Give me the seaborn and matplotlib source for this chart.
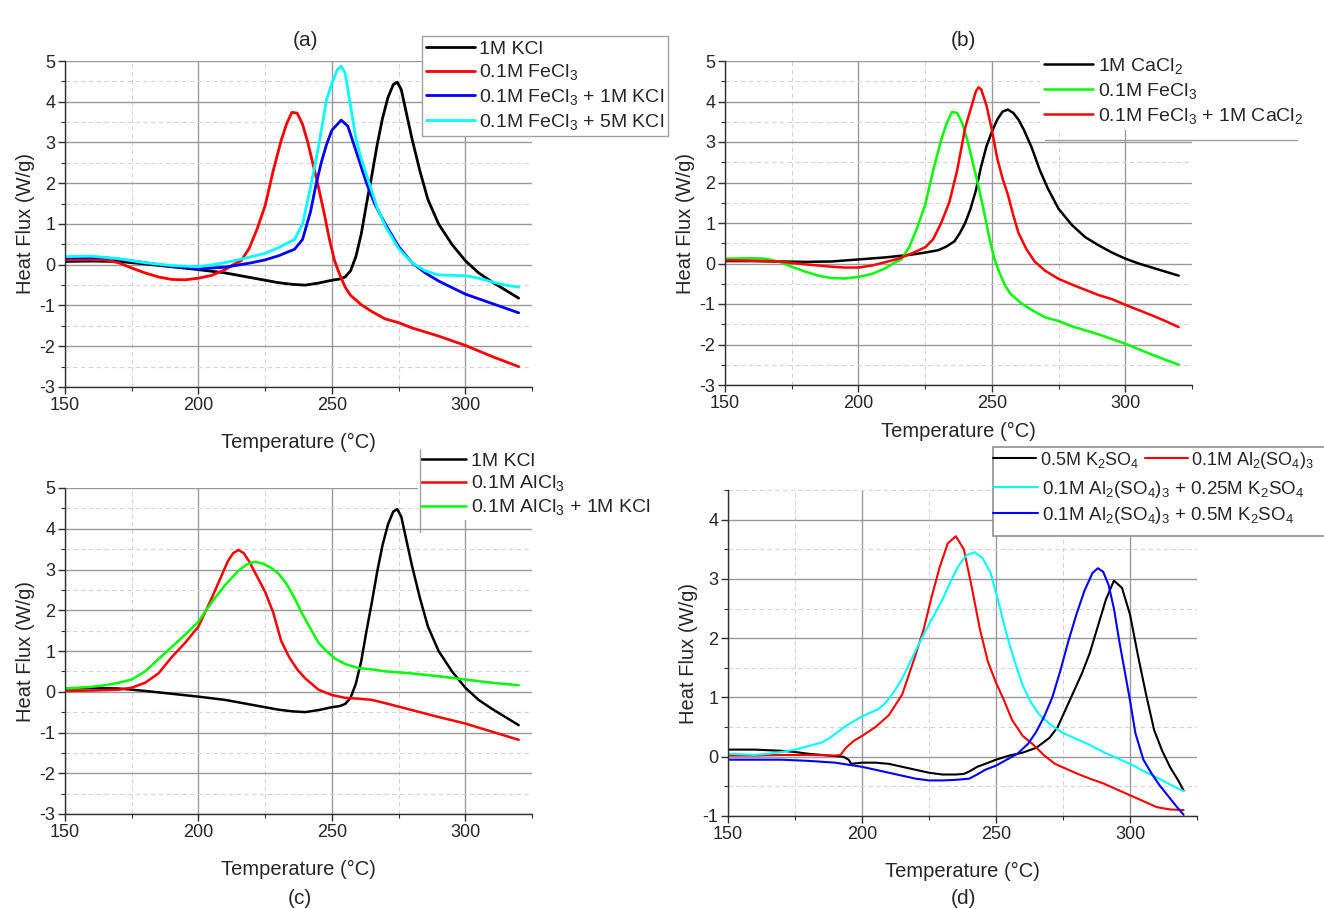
import numpy as np
import pandas as pd
import matplotlib
matplotlib.use("Agg")
import matplotlib.pyplot as plt
import seaborn as sns
from matplotlib.ticker import MultipleLocator
from matplotlib.patches import Rectangle
from matplotlib.lines import Line2D

# ---------------- data ----------------
# 1M KCl (panels a and c)
t_kcl = [150,160,170,180,190,200,210,220,230,235,240,245,250,253,255,257,259,261,263,265,267,269,271,273,274.5,276,278,280,283,286,290,295,300,305,310,315,320]
v_kcl = [0.08,0.09,0.08,0.02,-0.05,-0.12,-0.2,-0.32,-0.44,-0.48,-0.5,-0.45,-0.38,-0.35,-0.3,-0.15,0.2,0.75,1.5,2.2,2.95,3.6,4.1,4.42,4.48,4.3,3.7,3.1,2.3,1.6,1.0,0.5,0.1,-0.2,-0.42,-0.62,-0.82]

# 0.1M FeCl3 (panels a and b)
t_fe = [150,160,165,170,175,180,185,190,195,200,205,210,213,216,219,222,225,228,231,233,235,237,239,241,243,245,247,249,251,253,255,257,261,265,270,275,280,290,300,310,320]
v_fe = [0.12,0.13,0.12,0.05,-0.08,-0.2,-0.3,-0.36,-0.37,-0.33,-0.26,-0.12,0.0,0.1,0.4,0.88,1.45,2.3,3.05,3.45,3.74,3.72,3.45,3.0,2.45,1.9,1.3,0.65,0.1,-0.25,-0.55,-0.75,-0.98,-1.15,-1.33,-1.42,-1.55,-1.75,-1.98,-2.25,-2.5]

# 0.1M FeCl3 + 1M KCl
t_fe_k1 = [150,160,165,170,180,190,200,210,220,225,230,233,236,239,242,244,246,248,250,253.5,256,258,260,263,266,270,275,280,285,290,300,310,320]
v_fe_k1 = [0.17,0.18,0.17,0.14,0.05,-0.04,-0.1,-0.06,0.05,0.12,0.22,0.3,0.38,0.62,1.3,1.95,2.5,2.95,3.3,3.55,3.4,3.0,2.6,2.0,1.5,1.0,0.45,0.05,-0.2,-0.4,-0.72,-0.95,-1.18]

# 0.1M FeCl3 + 5M KCl
t_fe_k5 = [150,160,170,180,190,200,210,220,225,230,233,236,239,242,245,248,250,252,253.5,255,257,259,261,264,267,270,275,280,285,290,295,300,305,310,315,320]
v_fe_k5 = [0.2,0.21,0.15,0.05,-0.02,-0.05,0.05,0.2,0.28,0.42,0.52,0.62,1.0,1.9,2.9,4.05,4.45,4.78,4.87,4.7,3.9,3.1,2.6,2.0,1.4,0.95,0.4,0.05,-0.15,-0.25,-0.26,-0.27,-0.33,-0.42,-0.5,-0.55]

# 1M CaCl2
t_ca = [150,160,170,180,190,200,210,220,225,230,233,236,238,240,242,244,246,248,250,252,254,256,258,260,262,265,268,271,275,280,285,290,295,300,305,310,315,320]
v_ca = [0.06,0.06,0.05,0.04,0.05,0.1,0.15,0.22,0.27,0.33,0.42,0.55,0.75,1.0,1.35,1.8,2.4,2.9,3.25,3.55,3.75,3.8,3.72,3.55,3.3,2.85,2.3,1.85,1.35,0.95,0.65,0.45,0.27,0.12,0.0,-0.1,-0.2,-0.3]

# 0.1M FeCl3 + 1M CaCl2
t_fe_ca = [150,160,170,180,190,195,200,205,210,215,220,225,228,231,234,237,240,242,244,245,246,248,250,252,254,256,258,260,263,266,270,275,280,285,290,295,300,305,310,315,320]
v_fe_ca = [0.08,0.07,0.05,-0.02,-0.08,-0.1,-0.1,-0.05,0.03,0.12,0.25,0.4,0.6,1.0,1.5,2.3,3.35,3.8,4.25,4.35,4.3,3.9,3.3,2.6,2.1,1.7,1.2,0.75,0.35,0.05,-0.18,-0.38,-0.52,-0.65,-0.78,-0.88,-1.02,-1.15,-1.28,-1.42,-1.57]

# 0.1M AlCl3
t_al = [150,160,170,175,180,185,190,195,200,205,208,211,213,215,217,219,221,223,225,228,231,234,237,240,245,250,255,260,265,270,280,290,300,310,320]
v_al = [0.02,0.03,0.05,0.1,0.22,0.45,0.85,1.2,1.6,2.3,2.75,3.2,3.4,3.48,3.4,3.2,2.95,2.7,2.45,1.95,1.25,0.85,0.55,0.33,0.05,-0.08,-0.15,-0.17,-0.2,-0.28,-0.45,-0.62,-0.78,-0.98,-1.18]

# 0.1M AlCl3 + 1M KCl
t_al_k = [150,160,165,170,175,180,185,190,195,200,205,210,215,218,221,224,227,230,233,236,239,242,245,248,251,255,260,265,270,280,290,300,310,320]
v_al_k = [0.08,0.12,0.16,0.22,0.3,0.5,0.8,1.1,1.4,1.72,2.2,2.62,2.97,3.12,3.19,3.15,3.05,2.9,2.65,2.3,1.9,1.55,1.2,1.0,0.82,0.68,0.58,0.55,0.5,0.45,0.38,0.3,0.22,0.16]

# 0.5M K2SO4
t_ks = [150,160,170,175,180,185,190,193,195,196,198,200,205,210,215,220,225,230,235,238,240,243,246,250,255,260,265,270,273,276,279,282,285,288,291,294,297,300,303,306,309,312,315,318,320]
v_ks = [0.12,0.12,0.1,0.08,0.05,0.03,0.01,0.0,-0.05,-0.12,-0.11,-0.1,-0.1,-0.12,-0.17,-0.22,-0.27,-0.3,-0.3,-0.29,-0.25,-0.17,-0.12,-0.05,0.02,0.07,0.15,0.32,0.5,0.8,1.1,1.4,1.75,2.2,2.65,2.97,2.85,2.4,1.7,1.05,0.45,0.1,-0.18,-0.4,-0.57]

# 0.1M Al2(SO4)3
t_als = [150,160,170,180,190,192,194,197,200,205,210,215,220,223,226,229,232,235,238,241,244,247,250,253,256,260,264,268,272,276,280,285,290,295,300,305,310,315,320]
v_als = [0.02,0.02,0.03,0.03,0.02,0.03,0.15,0.27,0.35,0.5,0.7,1.05,1.72,2.15,2.7,3.2,3.6,3.72,3.5,2.85,2.15,1.6,1.25,0.95,0.62,0.35,0.2,0.02,-0.12,-0.2,-0.28,-0.37,-0.45,-0.55,-0.65,-0.75,-0.85,-0.89,-0.9]

# 0.1M Al2(SO4)3 + 0.25M K2SO4
t_als_k25 = [150,155,160,165,170,175,180,185,188,191,194,197,200,203,206,209,212,215,218,221,224,227,230,233,236,239,242,245,248,251,254,257,260,263,266,270,275,280,285,290,295,300,305,310,315,320]
v_als_k25 = [0.05,0.04,0.03,0.05,0.08,0.12,0.18,0.24,0.32,0.42,0.52,0.6,0.68,0.74,0.8,0.92,1.1,1.32,1.6,1.88,2.15,2.4,2.65,2.95,3.22,3.4,3.45,3.35,3.1,2.6,2.05,1.6,1.2,0.92,0.72,0.55,0.4,0.3,0.2,0.08,-0.02,-0.12,-0.24,-0.35,-0.47,-0.58]

# 0.1M Al2(SO4)3 + 0.5M K2SO4
t_als_k5 = [150,160,170,180,190,200,210,215,220,225,230,235,240,243,246,250,254,258,262,265,268,271,274,277,280,283,286,288,290,292,294,296,298,300,302,305,308,311,314,317,320]
v_als_k5 = [-0.05,-0.05,-0.05,-0.07,-0.1,-0.17,-0.27,-0.32,-0.37,-0.4,-0.4,-0.39,-0.37,-0.3,-0.22,-0.15,-0.05,0.05,0.22,0.42,0.68,1.0,1.45,1.95,2.4,2.8,3.1,3.18,3.12,2.9,2.5,1.95,1.45,0.95,0.4,-0.05,-0.28,-0.48,-0.65,-0.82,-0.98]

xlabel = "Temperature (°C)"
ylabel = "Heat Flux (W/g)"
panel_tags = ["(a)", "(b)", "(c)", "(d)"]

labels_a = ["1M KCl", "0.1M FeCl$_3$", "0.1M FeCl$_3$ + 1M KCl", "0.1M FeCl$_3$ + 5M KCl"]
labels_b = ["1M CaCl$_2$", "0.1M FeCl$_3$", "0.1M FeCl$_3$ + 1M CaCl$_2$"]
labels_c = ["1M KCl", "0.1M AlCl$_3$", "0.1M AlCl$_3$ + 1M KCl"]
labels_d = ["0.5M K$_2$SO$_4$", "0.1M Al$_2$(SO$_4$)$_3$",
            "0.1M Al$_2$(SO$_4$)$_3$ + 0.25M K$_2$SO$_4$",
            "0.1M Al$_2$(SO$_4$)$_3$ + 0.5M K$_2$SO$_4$"]

# ---------------- style ----------------
sns.set_style("white")
plt.rcParams['font.family'] = ['Liberation Sans', 'DejaVu Sans']
plt.rcParams['mathtext.fontset'] = 'custom'
plt.rcParams['mathtext.rm'] = 'Liberation Sans'
plt.rcParams['mathtext.it'] = 'Liberation Sans:italic'
plt.rcParams['mathtext.bf'] = 'Liberation Sans:bold'
plt.rcParams['axes.unicode_minus'] = False

W, H = 1324, 909
fig = plt.figure(figsize=(W / 100, H / 100), dpi=100)
fig.patch.set_facecolor("white")

LEG_FS = 14
TICK_FS = 13
LAB_FS = 14.5


def fx(px):
    return px / W


def fy(py):
    return 1 - py / H


def make_ax(left, right, top, bottom):
    return fig.add_axes([fx(left), fy(bottom), fx(right) - fx(left), fy(top) - fy(bottom)])


def style_ax(ax, ylim, ymaj, labelpad_x):
    ax.set_xlim(150, 325)
    ax.set_ylim(*ylim)
    ax.xaxis.set_major_locator(MultipleLocator(50))
    ax.xaxis.set_minor_locator(MultipleLocator(25))
    ax.yaxis.set_major_locator(MultipleLocator(ymaj))
    ax.yaxis.set_minor_locator(MultipleLocator(ymaj / 2))
    ax.grid(which='major', color='#9a9a9a', lw=1.0, ls='-')
    ax.grid(which='minor', color='#d4d4d4', lw=0.8, ls=(0, (4, 3)))
    ax.set_axisbelow(True)
    for s in ['top', 'right']:
        ax.spines[s].set_visible(False)
    for s in ['left', 'bottom']:
        ax.spines[s].set_color('#303030')
        ax.spines[s].set_linewidth(1.0)
    ax.tick_params(which='major', direction='out', length=5, width=1, color='#303030',
                   labelsize=TICK_FS, left=True, bottom=True, pad=2)
    ax.tick_params(which='minor', direction='out', length=3, width=0.8, color='#303030',
                   left=True, bottom=True)
    ax.set_xlabel(xlabel, fontsize=LAB_FS, labelpad=labelpad_x)
    ax.set_ylabel(ylabel, fontsize=LAB_FS, labelpad=3)


def draw(ax, series, colors, lw):
    for (t, v), c in zip(series, colors):
        sns.lineplot(x=t, y=v, ax=ax, color=c, lw=lw, estimator=None, legend=False)


# ---------------- panel (a) ----------------
ax_a = make_ax(65, 532, 61, 387)
draw(ax_a, [(t_kcl, v_kcl), (t_fe, v_fe), (t_fe_k1, v_fe_k1), (t_fe_k5, v_fe_k5)],
     ['#000000', '#ff0000', '#0000ff', '#00ffff'], 2.0)
style_ax(ax_a, (-3, 5), 1, 14)
leg_a = fig.legend(ax_a.get_lines(), labels_a, loc='upper left',
                   bbox_to_anchor=(fx(422), fy(36)), fontsize=LEG_FS, frameon=True,
                   fancybox=False, edgecolor='#a0a0a0', framealpha=1, borderpad=0.2,
                   labelspacing=0.25, handlelength=2.5, handletextpad=0.25, borderaxespad=0)
leg_a.get_frame().set_linewidth(1.0)

# ---------------- panel (b) ----------------
ax_b = make_ax(725, 1192, 61, 385)
draw(ax_b, [(t_ca, v_ca), (t_fe, v_fe), (t_fe_ca, v_fe_ca)],
     ['#000000', '#00ff00', '#ff0000'], 1.8)
style_ax(ax_b, (-3, 5), 1, 7)
leg_b = fig.legend(ax_b.get_lines(), labels_b, loc='upper left',
                   bbox_to_anchor=(fx(1040), fy(52)), fontsize=LEG_FS, frameon=True,
                   fancybox=False, edgecolor='none', framealpha=1, borderpad=0.2,
                   labelspacing=0.25, handlelength=2.5, handletextpad=0.3, borderaxespad=0)
fig.add_artist(Line2D([fx(1045), fx(1297)], [fy(140), fy(140)], color='#a0a0a0', lw=1.0, zorder=6))

# ---------------- panel (c) ----------------
ax_c = make_ax(65, 532, 488, 814)
draw(ax_c, [(t_kcl, v_kcl), (t_al, v_al), (t_al_k, v_al_k)],
     ['#000000', '#ff0000', '#00ff00'], 1.8)
style_ax(ax_c, (-3, 5), 1, 14)
leg_c = fig.legend(ax_c.get_lines(), labels_c, loc='upper left',
                   bbox_to_anchor=(fx(418), fy(449)), fontsize=LEG_FS, frameon=True,
                   fancybox=False, edgecolor='none', framealpha=1, borderpad=0.15,
                   labelspacing=0.2, handlelength=2.3, handletextpad=0.3, borderaxespad=0)
fig.add_artist(Line2D([fx(420), fx(420)], [fy(449), fy(532)], color='#a0a0a0', lw=1.0, zorder=6))

# ---------------- panel (d) ----------------
ax_d = make_ax(728, 1197, 490, 816)
draw(ax_d, [(t_ks, v_ks), (t_als, v_als), (t_als_k25, v_als_k25), (t_als_k5, v_als_k5)],
     ['#000000', '#ff0000', '#00ffff', '#0000ff'], 1.5)
style_ax(ax_d, (-1, 4.5), 1, 14)
lines_d = ax_d.get_lines()
fig.add_artist(Rectangle((fx(993), fy(536)), fx(1340) - fx(993), fy(447) - fy(536),
                         transform=fig.transFigure, facecolor='white',
                         edgecolor='#909090', lw=1.2, zorder=4))
leg_d1 = fig.legend(lines_d[:2], labels_d[:2], loc='upper left', ncol=2,
                    bbox_to_anchor=(fx(990), fy(447)), fontsize=13, frameon=False,
                    handlelength=2.4, handletextpad=0.2, columnspacing=0.3,
                    borderpad=0.15, borderaxespad=0)
leg_d2 = fig.legend(lines_d[2:], labels_d[2:], loc='upper left',
                    bbox_to_anchor=(fx(990), fy(476)), fontsize=13.5, frameon=False,
                    handlelength=2.4, handletextpad=0.2, labelspacing=0.25,
                    borderpad=0.15, borderaxespad=0)

# ---------------- panel tags ----------------
for tag, (px, py) in zip(panel_tags, [(305, 40), (963, 40), (300, 898), (963, 898)]):
    fig.text(fx(px), fy(py), tag, fontsize=15, ha='center', va='center')

fig.savefig("out.png", dpi=100, facecolor='white')
